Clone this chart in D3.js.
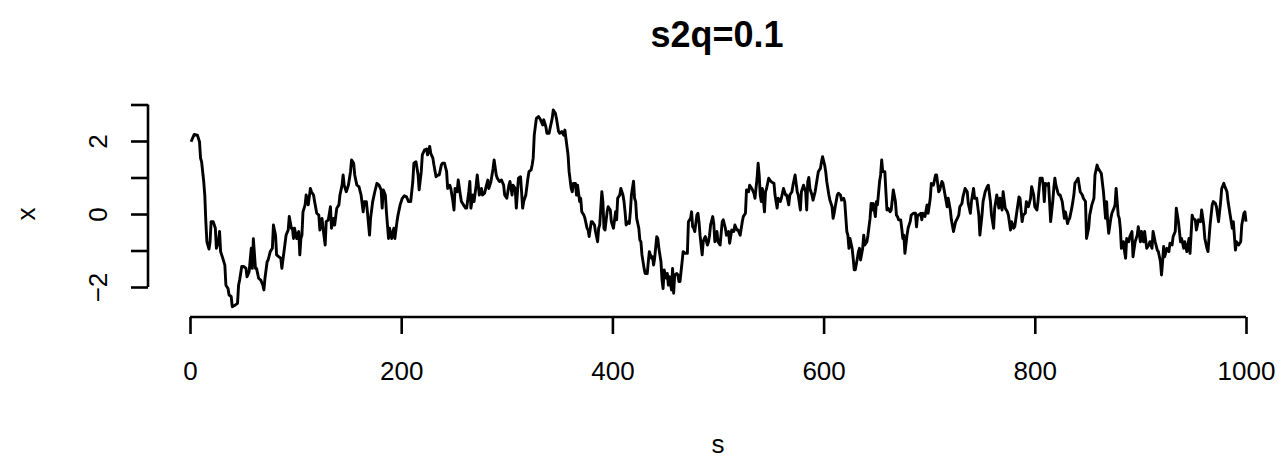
<!DOCTYPE html>
<html><head><meta charset="utf-8">
<script src="https://cdn.jsdelivr.net/npm/d3@7"></script>
<style>html,body{margin:0;padding:0;background:#fff;}svg{display:block;font-family:"Liberation Sans",Arial,Helvetica,sans-serif;}</style>
</head><body>
<script>
const title = "s2q=0.1";
const xLabel = "s";
const yLabel = "x";
const xTicks = [0, 200, 400, 600, 800, 1000];
const yTicks = [-2, -1, 0, 1, 2, 3];
const yTickLabels = ["-2", "", "0", "", "2", ""];
const sIdx = [1,4,7,9,10,11,13,14,15,16,18,19,20,22,24,25,27,28,29,31,33,34,36,37,39,40,43,45,46,47,49,51,53,54,56,58,59,60,62,63,65,67,69,70,71,73,74,76,78,79,81,82,84,86,87,89,91,93,94,96,97,98,
99,101,103,104,105,106,107,109,110,112,114,115,117,118,120,122,123,125,126,128,129,131,133,134,136,137,139,141,142,144,145,146,148,150,152,153,155,156,158,160,162,164,165,167,168,170,171,173,175,177,179,181,182,183,185,186,188,189,191,193,194,196,197,
199,201,203,205,207,209,211,212,214,216,217,219,220,222,224,225,227,228,230,231,233,235,236,238,239,241,243,244,246,247,249,250,251,253,254,256,257,259,261,262,264,265,266,268,269,271,272,274,276,277,279,280,282,283,285,287,288,290,291,293,295,
297,298,300,302,303,305,306,308,309,311,313,314,315,316,318,320,321,323,324,325,326,328,330,332,334,335,337,338,340,341,343,344,346,347,349,350,352,354,355,356,358,359,361,362,363,365,366,367,369,370,371,373,374,376,377,378,380,381,383,384,386,387,388,390,391,392,393,395,396,398,
399,401,403,404,405,407,408,410,411,412,413,415,416,417,418,420,421,422,423,425,426,427,428,430,431,433,434,435,437,438,439,440,442,443,444,446,447,448,449,451,452,453,454,456,457,458,459,461,462,463,464,466,467,469,471,472,474,475,476,477,478,480,481,482,483,485,486,487,488,490,491,492,493,495,496,
497,499,500,502,504,505,507,508,510,511,513,515,516,518,519,521,523,524,526,527,529,530,532,534,535,537,538,539,540,541,542,544,545,546,548,549,551,553,554,556,557,559,560,562,564,565,567,568,570,571,573,575,576,578,579,581,583,584,585,586,587,589,590,592,594,595,
597,598,599,601,602,603,605,606,608,609,610,611,613,614,616,617,619,620,622,623,624,625,627,628,629,630,632,633,634,635,637,638,639,641,642,644,645,646,647,649,650,651,653,654,655,656,658,659,660,661,663,664,665,666,668,669,670,671,673,674,675,676,677,679,680,682,683,685,687,688,689,690,692,693,694,
696,698,699,701,702,704,706,707,709,710,712,713,715,717,718,720,721,723,725,726,728,729,731,732,734,736,737,739,740,742,743,745,747,748,750,751,753,755,756,758,759,761,762,764,766,767,769,770,772,774,775,777,778,780,781,783,785,786,788,789,791,
792,794,796,797,799,800,802,803,805,807,808,809,810,812,813,814,815,817,818,819,820,822,823,824,826,827,828,829,831,832,833,835,837,838,840,841,843,845,846,848,849,851,852,854,856,857,859,860,862,863,865,867,868,869,870,872,873,875,876,877,879,880,881,882,884,885,886,887,889,890,892,
893,895,897,898,900,901,903,904,906,908,909,911,912,914,916,917,919,920,921,922,923,925,927,928,930,931,933,934,936,938,939,941,942,944,946,947,949,950,952,953,955,957,958,960,961,963,964,966,968,969,971,972,974,976,977,979,980,982,983,985,987,988,990,991,993,995,996,998,999,1000];
const xVals = [1.98,2.18,2.16,1.98,1.53,1.43,0.89,0.52,-0.21,-0.76,-0.96,-0.76,-0.21,-0.21,-0.39,-0.94,-0.76,-0.48,-1.03,-1.21,-1.40,-1.95,-2.04,-2.22,-2.26,-2.54,-2.49,-2.45,-1.95,-1.81,-1.44,-1.44,-1.49,-1.72,-1.58,-0.94,-1.49,-0.68,-1.49,-1.49,-1.76,-1.81,-1.95,-2.08,-1.76,-1.31,-1.26,-1.03,-0.94,-0.30,-0.58,-1.12,-1.17,-1.21,-1.49,-1.03,-0.58,-0.44,-0.07,-0.39,-0.39,-0.67,
-0.39,-0.67,-0.48,-1.12,-0.67,-0.58,0.06,0.25,0.52,0.25,0.70,0.61,0.52,0.34,0.02,-0.03,-0.44,-0.12,-0.39,-0.85,-0.21,-0.16,0.20,-0.39,-0.12,-0.30,0.16,0.25,0.52,0.79,1.07,0.79,0.61,0.79,1.16,1.48,1.39,1.07,0.79,0.75,0.52,0.06,0.34,0.34,0.06,-0.58,-0.12,0.34,0.61,0.84,0.79,0.66,0.16,0.66,0.52,0.06,-0.67,-0.39,-0.67,-0.39,-0.67,-0.21,-0.03,
0.25,0.43,0.50,0.47,0.34,0.34,0.89,1.39,1.43,1.07,0.66,1.16,1.62,1.75,1.78,1.62,1.85,1.66,1.53,1.34,1.02,1.07,1.07,1.34,1.39,1.39,1.16,0.70,0.79,0.70,0.34,0.11,0.70,0.61,0.93,0.52,0.34,0.25,0.16,0.16,0.61,0.89,0.16,0.52,0.34,0.79,1.07,0.52,0.70,0.52,0.57,0.70,0.93,0.70,0.89,1.25,1.48,1.07,0.98,0.89,0.93,
0.79,0.52,0.43,0.79,0.89,0.52,0.79,0.70,0.16,0.98,1.02,0.61,0.16,0.34,0.52,0.98,1.16,1.21,1.34,1.53,2.16,2.62,2.67,2.58,2.44,2.58,2.39,2.21,2.21,2.35,2.62,2.85,2.76,2.62,2.26,2.21,2.26,2.16,2.30,2.07,1.62,1.16,0.70,0.61,0.84,0.84,0.52,0.79,0.34,0.43,0.06,-0.03,-0.12,-0.39,-0.44,-0.62,-0.21,-0.21,-0.30,-0.48,-0.76,-0.39,-0.30,0.61,0.34,-0.39,-0.44,0.06,0.20,0.11,
-0.21,-0.39,0.06,-0.16,0.43,0.52,0.70,0.52,0.34,0.06,-0.30,-0.21,-0.26,0.06,0.52,0.90,0.43,0.34,-0.12,-0.39,-0.71,-0.76,-1.12,-1.49,-1.63,-1.63,-1.31,-1.03,-1.21,-1.17,-1.40,-1.21,-0.62,-0.67,-0.94,-1.31,-1.81,-2.04,-1.53,-1.76,-1.63,-1.95,-1.72,-2.08,-1.49,-2.17,-1.67,-1.63,-1.67,-1.85,-1.85,-1.31,-1.03,-1.08,-1.08,-0.21,-0.12,0.06,-0.35,-0.39,-0.48,-0.03,0.02,-0.21,-0.58,-1.12,-0.76,-0.67,-0.62,-0.85,-0.76,-0.58,-0.30,-0.07,-0.26,
-0.76,-0.48,-0.76,-0.85,-0.21,-0.16,-0.39,-0.58,-0.48,-0.80,-0.44,-0.48,-0.30,-0.44,-0.44,-0.58,-0.21,-0.07,0.02,0.66,0.61,0.79,0.70,0.57,0.43,0.98,1.39,1.07,0.52,0.34,0.70,0.06,0.61,0.70,0.98,0.93,0.87,0.84,0.52,0.16,0.43,0.34,0.43,0.70,0.52,0.52,0.25,0.52,0.61,0.79,1.07,0.61,0.52,0.11,0.61,0.79,0.61,0.11,0.89,1.00,0.70,0.52,0.38,0.61,0.98,1.16,
1.25,1.43,1.57,1.34,1.16,0.89,0.52,0.38,0.20,-0.12,0.02,0.20,0.52,0.57,0.52,0.38,0.43,0.34,-0.48,-0.58,-0.94,-0.67,-0.94,-1.21,-1.53,-1.53,-1.21,-1.03,-0.94,-1.26,-0.94,-0.58,-0.85,-0.76,-0.58,-0.12,0.29,0.11,0.29,-0.07,0.34,0.25,0.89,1.07,1.48,1.16,1.16,0.61,0.11,0.16,0.06,0.11,0.38,0.66,0.34,-0.03,-0.07,-0.16,-0.16,-0.39,-0.67,-0.58,-1.08,-0.58,-0.39,-0.21,-0.03,0.02,0.02,-0.35,-0.03,-0.03,0.02,-0.16,0.02,
-0.07,0.25,0.02,0.43,0.84,0.79,1.07,1.07,0.61,0.66,0.89,0.84,0.52,0.20,0.43,0.11,-0.16,-0.48,-0.21,-0.16,-0.03,0.20,0.29,0.47,0.70,0.61,0.29,0.02,0.34,0.70,0.43,0.43,-0.03,-0.58,-0.03,0.34,0.61,0.75,0.79,0.34,-0.03,-0.39,0.16,0.52,0.16,0.43,0.11,0.61,0.16,0.06,-0.03,-0.44,-0.21,-0.39,-0.35,0.06,0.47,0.43,-0.21,-0.03,0.02,
0.34,0.20,0.43,0.75,0.52,0.20,0.11,0.34,0.98,0.98,0.79,0.34,0.84,0.79,0.84,0.34,-0.21,0.34,0.70,0.98,0.79,0.57,0.52,0.52,0.34,0.11,-0.12,0.06,-0.26,-0.16,-0.12,0.16,0.52,0.84,0.93,0.98,0.61,0.52,0.43,0.34,-0.67,-0.39,-0.03,0.25,0.43,1.07,1.34,1.25,1.16,1.11,0.61,-0.12,0.34,-0.21,-0.53,-0.12,0.02,0.16,0.25,0.70,-0.03,-0.12,-0.39,-0.94,-0.76,-1.03,-1.21,-0.67,-0.76,-0.62,-0.48,
-1.17,-0.76,-0.58,-0.35,-0.76,-0.48,-0.76,-0.48,-0.94,-0.85,-0.76,-0.94,-0.48,-0.76,-0.99,-1.03,-1.31,-1.67,-1.31,-0.89,-1.17,-0.94,-1.03,-0.80,-0.85,-0.62,-0.48,0.16,-0.21,-0.76,-0.67,-0.94,-0.76,-1.03,-0.67,-1.08,-0.03,-0.12,-0.16,-0.44,-0.16,-0.21,0.11,-0.30,-0.67,-0.94,-1.03,-0.30,0.25,0.34,0.29,0.20,-0.21,0.34,0.70,0.84,0.75,0.61,0.34,-0.03,-0.39,-0.21,-0.99,-0.76,-0.85,-0.76,-0.30,0.02,0.06,-0.21];

const W = 1285, H = 458;
const svg = d3.select("body").append("svg").attr("width", W).attr("height", H);

const x = d3.scaleLinear().domain([0, 1000]).range([190, 1246]);
const y = d3.scaleLinear().domain([-2, 2]).range([287, 141]);

const data = sIdx.map((s, i) => ({s: s, v: xVals[i]}));

svg.append("path")
  .datum(data)
  .attr("fill", "none")
  .attr("stroke", "#000")
  .attr("stroke-width", 2.9)
  .attr("stroke-linejoin", "round")
  .attr("d", d3.line().x(d => x(d.s)).y(d => y(d.v)));

const FONT = "Liberation Sans, Arial, Helvetica, sans-serif";

// x axis
const xAxisY = 317;
const gx = svg.append("g").attr("transform", `translate(0,${xAxisY})`)
  .call(d3.axisBottom(x).tickValues(xTicks).tickFormat(d3.format("d")).tickSize(17).tickSizeOuter(0).tickPadding(28));
gx.select(".domain").attr("stroke", "#000").attr("stroke-width", 2.6).attr("d", `M${x(0)},0H${x(1000)}`);
gx.selectAll(".tick line").attr("stroke", "#000").attr("stroke-width", 2.6);
gx.selectAll(".tick text").attr("font-size", 26).attr("fill", "#000").attr("font-family", FONT);

// y axis
const yAxisX = 148;
const gy = svg.append("g").attr("transform", `translate(${yAxisX},0)`)
  .call(d3.axisLeft(y).tickValues(yTicks).tickFormat((d, i) => yTickLabels[i]).tickSize(17).tickSizeOuter(0).tickPadding(10));
gy.select(".domain").attr("stroke", "#000").attr("stroke-width", 2.6).attr("d", `M0,${y(-2)}V${y(3)}`);
gy.selectAll(".tick line").attr("stroke", "#000").attr("stroke-width", 2.6);
gy.selectAll(".tick text")
  .attr("font-size", 26).attr("fill", "#000").attr("font-family", FONT)
  .attr("text-anchor", "middle").attr("dy", null).attr("x", null)
  .attr("transform", "translate(-50,0) rotate(-90)")
  .attr("dominant-baseline", "central")
  .text((d, i) => yTickLabels[i].replace("-", "\u2212"));

// titles
svg.append("text").attr("x", 717).attr("y", 47).attr("text-anchor", "middle")
  .attr("font-family", FONT).attr("font-size", 36).attr("font-weight", "bold").text(title);
svg.append("text").attr("x", 718).attr("y", 453).attr("text-anchor", "middle")
  .attr("font-family", FONT).attr("font-size", 26).text(xLabel);
svg.append("text").attr("transform", "translate(35,214) rotate(-90)").attr("text-anchor", "middle")
  .attr("font-family", FONT).attr("font-size", 26).text(yLabel);
</script>
</body></html>
